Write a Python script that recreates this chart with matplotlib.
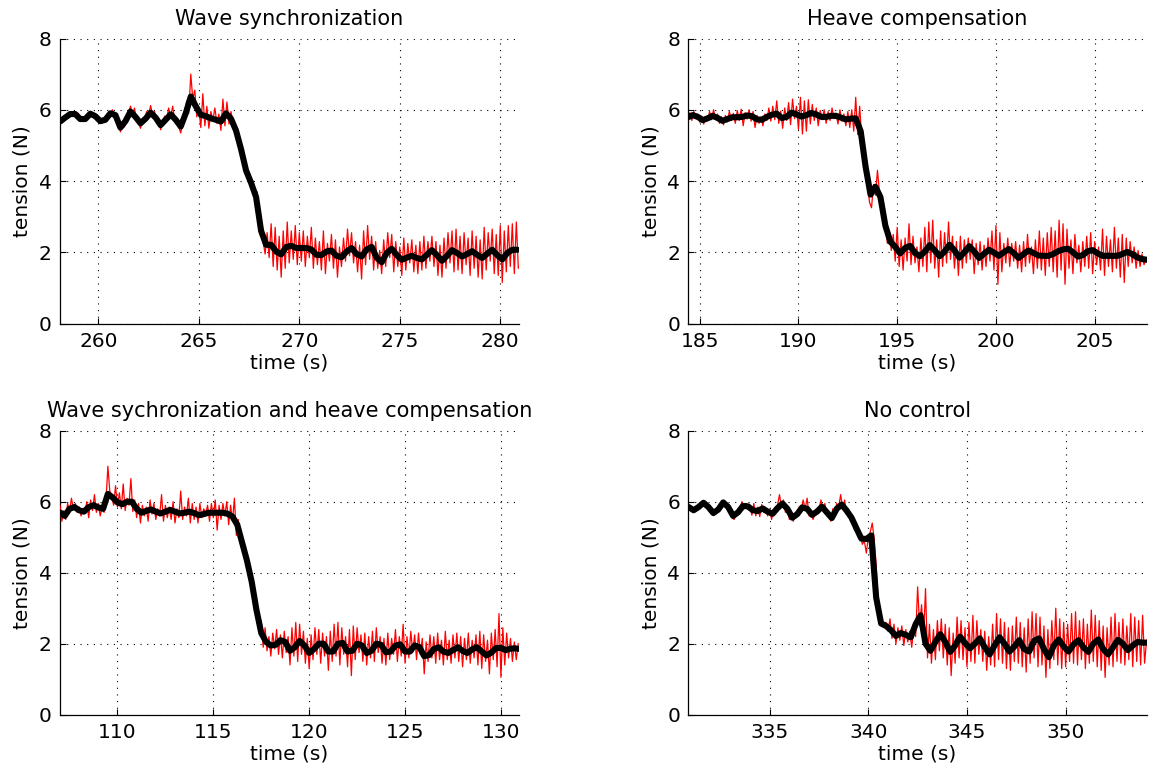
import numpy as np
import matplotlib
matplotlib.use("Agg")
import matplotlib.pyplot as plt

# panel titles, time windows and ticks
titles = ["Wave synchronization", "Heave compensation",
          "Wave sychronization and heave compensation", "No control"]
xlims = [(258.09, 280.93), (184.43, 207.63), (107.0, 130.94), (330.89, 354.1)]
xticks = [[260, 265, 270, 275, 280], [185, 190, 195, 200, 205],
          [110, 115, 120, 125, 130], [335, 340, 345, 350]]
yticks = [0, 2, 4, 6, 8]

# start time of each record (s) and sample steps
t_start = [258.1, 184.4, 107.0, 330.9]
raw_dt = 0.1     # measured tension
filt_dt = 0.25   # filtered tension

# --- Wave synchronization ---
raw_ws = [
    5.65, 5.72, 5.70, 5.80, 5.78, 5.88, 5.84, 5.92, 5.86, 5.90,
    5.78, 5.70, 5.74, 5.72, 5.82, 5.80, 5.92, 5.86, 5.80, 5.74,
    5.66, 5.70, 5.76, 5.72, 5.84, 5.90, 6.00, 5.88, 5.84, 5.64,
    5.38, 5.62, 5.52, 5.80, 5.92, 6.10, 5.85, 6.05, 5.70, 5.62,
    5.48, 5.72, 5.68, 5.95, 5.82, 6.12, 5.86, 5.95, 5.62, 5.70,
    5.44, 5.66, 5.82, 5.74, 6.05, 5.80, 6.10, 5.70, 5.78, 5.52,
    5.35, 5.62, 5.95, 6.25, 5.90, 7.00, 6.30, 6.55, 5.80, 6.05,
    5.50, 6.45, 5.55, 6.10, 5.48, 5.95, 5.70, 6.05, 5.62, 5.88,
    5.42, 6.30, 5.55, 6.22, 5.60, 5.95, 5.65, 5.55, 5.25, 5.10,
    4.75, 4.55, 4.20, 4.40, 4.05, 3.90, 4.00, 3.55, 3.70, 2.95,
    2.60, 2.30, 1.95, 2.55, 1.85, 2.80, 1.60, 2.70, 1.50, 2.45,
    1.30, 2.60, 1.55, 2.85, 1.70, 2.60, 1.80, 2.75, 1.65, 2.55,
    1.75, 2.60, 1.60, 2.45, 1.85, 2.70, 1.55, 2.40, 1.65, 2.30,
    1.50, 2.60, 1.40, 2.25, 1.75, 2.50, 1.55, 2.35, 1.30, 2.15,
    1.60, 2.40, 1.75, 2.65, 1.90, 2.55, 1.70, 2.30, 1.45, 2.20,
    1.25, 2.60, 1.65, 2.75, 1.80, 2.45, 1.50, 2.30, 1.55, 2.05,
    1.40, 2.35, 1.60, 2.55, 1.85, 2.50, 1.45, 2.30, 1.60, 2.15,
    1.35, 2.40, 1.50, 2.25, 1.70, 2.35, 1.45, 2.20, 1.40, 2.30,
    1.50, 2.45, 1.55, 2.30, 1.75, 2.45, 1.60, 2.30, 1.35, 2.20,
    1.30, 2.40, 1.55, 2.55, 1.70, 2.60, 1.45, 2.65, 1.50, 2.45,
    1.40, 2.55, 1.65, 2.40, 1.35, 2.60, 1.55, 2.45, 1.30, 2.35,
    1.25, 2.70, 1.50, 2.55, 1.75, 2.65, 1.40, 2.50, 1.35, 2.75,
    1.15, 2.60, 1.45, 2.75, 1.60, 2.80, 1.40, 2.85, 1.55, 1.60,
]
filt_ws = [
    5.67, 5.78, 5.88, 5.88, 5.74, 5.74, 5.89, 5.82, 5.68, 5.72,
    5.90, 5.85, 5.50, 5.68, 5.95, 5.80, 5.62, 5.75, 5.92, 5.78,
    5.57, 5.72, 5.87, 5.72, 5.53, 5.90, 6.37, 6.10, 5.86, 5.82,
    5.76, 5.72, 5.67, 5.90, 5.75, 5.42, 4.90, 4.30, 3.95, 3.55,
    2.60, 2.21, 2.21, 2.02, 1.94, 2.15, 2.18, 2.12, 2.12, 2.12,
    2.08, 1.93, 1.92, 2.02, 2.05, 1.90, 1.86, 2.02, 2.12, 1.95,
    1.88, 2.08, 2.15, 1.85, 1.72, 1.98, 2.10, 1.92, 1.79, 1.85,
    1.90, 1.84, 1.80, 1.93, 2.06, 1.92, 1.76, 1.90, 2.06, 1.98,
    1.88, 1.95, 2.03, 1.93, 1.84, 1.96, 2.07, 1.92, 1.80, 1.98,
    2.07, 2.07,
]

# --- Heave compensation ---
raw_hc = [
    5.75, 5.92, 5.70, 5.95, 5.78, 5.88, 5.65, 5.82, 5.60, 5.78,
    5.70, 5.95, 5.72, 6.00, 5.75, 5.88, 5.62, 5.80, 5.58, 5.84,
    5.66, 5.96, 5.70, 5.90, 5.62, 5.98, 5.70, 6.02, 5.55, 5.92,
    5.74, 6.00, 5.68, 5.95, 5.50, 5.84, 5.62, 5.80, 5.55, 5.88,
    5.70, 6.05, 5.68, 6.10, 5.72, 6.25, 5.62, 5.96, 5.48, 6.05,
    5.70, 6.20, 5.58, 6.30, 5.75, 6.10, 5.45, 6.35, 5.32, 6.25,
    5.40, 6.28, 5.60, 6.15, 5.70, 6.05, 5.55, 5.98, 5.72, 6.00,
    5.62, 5.95, 5.70, 6.05, 5.75, 5.90, 5.60, 6.00, 5.68, 5.88,
    5.55, 5.95, 5.50, 6.00, 5.40, 6.35, 5.30, 6.10, 5.20, 4.70,
    4.25, 3.85, 3.40, 3.25, 3.90, 3.60, 4.30, 3.70, 3.45, 3.10,
    2.85, 2.25, 2.60, 2.05, 2.50, 1.75, 2.70, 1.60, 2.35, 1.50,
    2.40, 1.75, 2.80, 1.65, 2.45, 1.70, 2.15, 1.45, 2.40, 1.60,
    2.70, 1.45, 2.85, 1.70, 2.90, 1.55, 2.35, 1.30, 2.60, 1.60,
    2.55, 1.70, 2.85, 1.80, 2.45, 1.55, 2.30, 1.35, 2.45, 1.55,
    2.35, 1.70, 2.40, 1.80, 2.35, 1.40, 2.25, 1.65, 2.30, 1.50,
    2.20, 1.60, 2.40, 1.75, 2.60, 1.50, 2.75, 1.10, 2.55, 1.45,
    2.25, 1.70, 2.40, 1.60, 2.25, 1.75, 2.30, 1.55, 2.20, 1.45,
    2.30, 1.60, 2.50, 1.70, 2.15, 1.40, 2.35, 1.55, 2.60, 1.50,
    2.40, 1.35, 2.55, 1.60, 2.70, 1.45, 2.60, 1.30, 2.90, 1.50,
    2.80, 1.10, 2.65, 1.55, 2.35, 1.40, 2.50, 1.70, 2.20, 1.45,
    2.30, 1.60, 2.45, 1.55, 2.55, 1.40, 2.30, 1.65, 2.15, 1.50,
    2.65, 1.35, 2.45, 1.60, 2.35, 1.45, 2.70, 1.55, 2.40, 1.30,
    2.50, 1.15, 2.40, 1.60, 2.30, 1.70, 2.15, 1.55, 2.05, 1.60,
    1.95, 1.65, 1.80,
]
filt_hc = [
    5.79, 5.85, 5.80, 5.71, 5.76, 5.83, 5.77, 5.69, 5.74, 5.79,
    5.79, 5.80, 5.84, 5.82, 5.73, 5.72, 5.80, 5.86, 5.89, 5.77,
    5.80, 5.92, 5.87, 5.81, 5.85, 5.91, 5.87, 5.80, 5.80, 5.83,
    5.83, 5.78, 5.73, 5.75, 5.76, 5.40, 4.40, 3.62, 3.84, 3.55,
    2.75, 2.30, 2.15, 1.97, 2.12, 2.18, 1.98, 1.89, 2.02, 2.20,
    2.05, 1.89, 2.02, 2.21, 2.05, 1.85, 2.00, 2.17, 2.02, 1.84,
    1.96, 2.07, 1.99, 1.90, 2.00, 2.09, 1.98, 1.84, 1.95, 2.05,
    1.98, 1.91, 1.90, 1.90, 1.95, 2.03, 2.08, 2.10, 2.00, 1.88,
    1.92, 2.03, 2.06, 1.97, 1.90, 1.90, 1.90, 1.90, 1.95, 2.01,
    1.95, 1.86, 1.81, 1.79,
]

# --- Wave synchronization and heave compensation ---
raw_wshc = [
    5.90, 5.45, 5.75, 5.50, 5.95, 5.72, 6.10, 5.78, 5.95, 5.70,
    5.85, 5.60, 5.80, 5.68, 6.00, 5.55, 6.05, 5.75, 6.20, 5.70,
    5.95, 5.60, 5.85, 5.70, 6.00, 7.00, 6.30, 6.15, 5.90, 6.45,
    5.85, 6.25, 5.80, 6.50, 5.75, 6.10, 5.90, 6.65, 5.72, 6.05,
    5.55, 5.95, 5.40, 5.90, 5.60, 5.85, 5.45, 6.05, 5.65, 5.95,
    5.50, 5.80, 5.60, 6.20, 5.45, 5.90, 5.55, 5.85, 5.50, 6.00,
    5.40, 5.80, 5.55, 6.30, 5.50, 5.85, 5.60, 6.10, 5.40, 5.95,
    5.50, 5.85, 5.40, 5.95, 5.55, 5.80, 5.65, 5.90, 5.45, 5.95,
    5.55, 6.05, 5.20, 5.90, 5.50, 5.95, 5.60, 6.00, 5.35, 5.90,
    5.45, 6.10, 5.05, 5.50, 5.00, 4.80, 4.55, 4.45, 4.35, 4.10,
    3.85, 3.40, 3.05, 2.70, 2.40, 2.65, 1.90, 2.45, 1.80, 2.20,
    1.65, 2.30, 1.85, 2.40, 1.70, 2.25, 1.60, 2.35, 1.75, 2.20,
    1.40, 2.45, 1.65, 2.60, 1.50, 2.55, 1.70, 2.35, 1.45, 2.15,
    1.30, 2.25, 1.55, 2.45, 1.70, 2.40, 1.45, 2.30, 1.65, 2.20,
    1.25, 2.35, 1.50, 2.55, 1.65, 2.60, 1.40, 2.45, 1.70, 2.20,
    1.35, 2.40, 1.10, 2.50, 1.55, 2.45, 1.75, 2.25, 1.50, 2.30,
    1.40, 2.20, 1.60, 2.35, 1.50, 2.45, 1.75, 2.20, 1.45, 2.15,
    1.40, 2.30, 1.55, 2.15, 1.70, 2.40, 1.50, 2.20, 1.65, 2.55,
    1.45, 2.20, 1.60, 2.35, 1.75, 2.25, 1.55, 2.30, 1.70, 2.15,
    1.15, 2.05, 1.50, 2.25, 1.60, 2.20, 1.45, 2.30, 1.55, 2.10,
    1.40, 2.35, 1.55, 2.10, 1.45, 2.25, 1.60, 2.30, 1.50, 2.20,
    1.35, 2.15, 1.55, 2.30, 1.45, 2.10, 1.60, 2.25, 1.40, 2.35,
    1.30, 2.25, 1.50, 2.10, 1.15, 2.30, 1.55, 2.40, 1.35, 2.85,
    1.05, 2.45, 1.40, 2.30, 1.60, 2.15, 1.50, 2.05, 1.55, 2.00,
]
filt_wshc = [
    5.70, 5.60, 5.80, 5.85, 5.76, 5.72, 5.85, 5.90, 5.84, 5.80,
    6.22, 6.12, 5.98, 5.93, 6.00, 6.00, 5.80, 5.69, 5.74, 5.78,
    5.72, 5.67, 5.72, 5.77, 5.72, 5.67, 5.69, 5.72, 5.68, 5.62,
    5.65, 5.69, 5.69, 5.69, 5.69, 5.66, 5.58, 5.35, 4.85, 4.35,
    3.75, 2.95, 2.30, 2.05, 1.95, 1.97, 2.10, 2.05, 1.80, 1.90,
    2.08, 1.95, 1.74, 1.85, 2.00, 2.00, 1.78, 1.78, 2.00, 2.02,
    1.78, 1.80, 2.00, 1.95, 1.74, 1.80, 2.00, 1.97, 1.76, 1.78,
    1.95, 1.98, 1.78, 1.78, 1.95, 1.90, 1.65, 1.68, 1.85, 1.90,
    1.78, 1.74, 1.82, 1.90, 1.80, 1.74, 1.84, 1.90, 1.78, 1.67,
    1.75, 1.88, 1.88, 1.82, 1.86, 1.87, 1.85,
]

# --- No control ---
raw_nc = [
    5.90, 5.80, 5.70, 5.78, 5.82, 5.90, 5.98, 5.92, 6.00, 5.88,
    5.82, 5.72, 5.66, 5.70, 5.78, 5.85, 5.95, 6.00, 5.96, 5.90,
    5.80, 5.70, 5.56, 5.50, 5.62, 5.75, 5.82, 6.00, 5.80, 5.95,
    5.78, 5.90, 5.62, 5.95, 5.60, 5.85, 5.58, 5.92, 5.70, 5.82,
    5.60, 5.80, 5.50, 5.75, 5.85, 5.90, 6.20, 5.85, 6.05, 5.70,
    5.85, 5.50, 5.70, 5.45, 5.65, 5.60, 5.85, 5.75, 6.05, 5.80,
    6.10, 5.60, 5.70, 5.50, 5.65, 5.80, 5.75, 6.05, 5.80, 5.95,
    5.60, 5.70, 5.45, 5.80, 5.60, 5.95, 5.85, 6.20, 5.80, 6.05,
    5.65, 5.80, 5.45, 5.60, 5.20, 5.40, 5.00, 5.05, 4.80, 4.90,
    4.55, 5.00, 5.15, 5.40, 4.95, 4.20, 3.20, 2.75, 2.65, 2.50,
    2.60, 2.35, 2.70, 2.15, 2.55, 2.00, 2.45, 2.10, 2.50, 1.95,
    2.40, 2.05, 2.35, 1.90, 2.40, 2.20, 3.60, 2.50, 3.10, 2.20,
    3.55, 1.60, 2.55, 1.45, 2.40, 1.55, 2.65, 1.80, 2.70, 1.60,
    2.55, 1.40, 2.45, 1.10, 2.30, 1.45, 2.75, 1.60, 2.65, 1.55,
    2.45, 1.35, 2.60, 1.50, 2.80, 1.45, 2.65, 1.70, 2.40, 1.50,
    2.35, 1.25, 2.20, 1.40, 2.55, 1.35, 2.85, 1.55, 2.70, 1.45,
    2.60, 1.30, 2.45, 1.25, 2.50, 1.50, 2.75, 1.45, 2.60, 1.35,
    2.45, 1.20, 2.70, 1.45, 2.90, 1.60, 2.85, 1.35, 2.75, 1.40,
    2.50, 1.05, 2.40, 1.30, 2.65, 1.55, 3.00, 1.40, 2.70, 1.30,
    2.60, 1.35, 2.55, 1.50, 2.85, 1.45, 2.90, 1.40, 2.65, 1.55,
    2.70, 1.30, 2.55, 1.45, 2.95, 1.50, 2.80, 1.35, 2.65, 1.25,
    2.50, 1.05, 2.45, 1.40, 2.75, 1.35, 2.85, 1.50, 2.60, 1.45,
    2.70, 1.40, 2.50, 1.55, 2.85, 1.35, 2.75, 1.50, 2.65, 1.40,
    2.80, 1.45, 2.10,
]
filt_nc = [
    5.85, 5.76, 5.85, 5.97, 5.85, 5.68, 5.78, 5.98, 5.85, 5.60,
    5.70, 5.88, 5.87, 5.76, 5.74, 5.81, 5.72, 5.66, 5.82, 5.95,
    5.80, 5.55, 5.65, 5.84, 5.80, 5.63, 5.72, 5.86, 5.70, 5.54,
    5.80, 5.92, 5.75, 5.55, 5.25, 4.96, 4.95, 5.05, 3.30, 2.57,
    2.50, 2.38, 2.22, 2.30, 2.25, 2.18, 2.55, 2.80, 2.00, 1.80,
    2.05, 2.27, 2.05, 1.77, 1.95, 2.20, 2.02, 1.87, 2.00, 2.15,
    1.90, 1.70, 1.95, 2.18, 2.00, 1.78, 1.92, 2.10, 1.85, 1.78,
    2.08, 2.15, 1.85, 1.62, 1.95, 2.12, 1.92, 1.78, 1.98, 2.10,
    1.90, 1.77, 2.00, 2.12, 1.85, 1.70, 1.90, 2.11, 2.00, 1.82,
    1.95, 2.05, 2.03, 2.03,
]

raw_data = [raw_ws, raw_hc, raw_wshc, raw_nc]
filt_data = [filt_ws, filt_hc, filt_wshc, filt_nc]

# axes rectangles in figure fractions
rects = [[0.0519, 0.5793, 0.3974, 0.3706],
         [0.5961, 0.5793, 0.3966, 0.3706],
         [0.0519, 0.0706, 0.3974, 0.3693],
         [0.5961, 0.0706, 0.3966, 0.3693]]

fig = plt.figure(figsize=(11.55, 7.69), dpi=100)
fs = 14.5

for i in range(4):
    ax = fig.add_axes(rects[i])
    raw = np.array(raw_data[i])
    filt = np.array(filt_data[i])
    t_raw = t_start[i] + raw_dt * np.arange(len(raw))
    t_filt = t_start[i] + filt_dt * np.arange(len(filt))
    ax.plot(t_raw, raw, color='red', lw=0.9, zorder=3)
    ax.plot(t_filt, filt, color='black', lw=4.4, zorder=4,
            solid_joinstyle='round', solid_capstyle='round')

    ax.set_xlim(*xlims[i])
    ax.set_ylim(0, 8)
    ax.set_xticks(xticks[i])
    ax.set_yticks(yticks)
    ax.grid(True, color='black', linestyle=(0, (1, 5)), linewidth=0.8)
    ax.set_axisbelow(True)
    for s in ['top', 'right']:
        ax.spines[s].set_visible(False)
    for s in ['left', 'bottom']:
        ax.spines[s].set_linewidth(0.9)
    ax.tick_params(direction='in', length=4, width=0.8, labelsize=fs, pad=6,
                   top=False, right=False)
    ax.set_xlabel('time (s)', fontsize=fs, labelpad=2)
    ax.set_ylabel('tension (N)', fontsize=fs, labelpad=5)
    ax.set_title(titles[i], fontsize=15, pad=10)

fig.savefig('out.png', dpi=100)
